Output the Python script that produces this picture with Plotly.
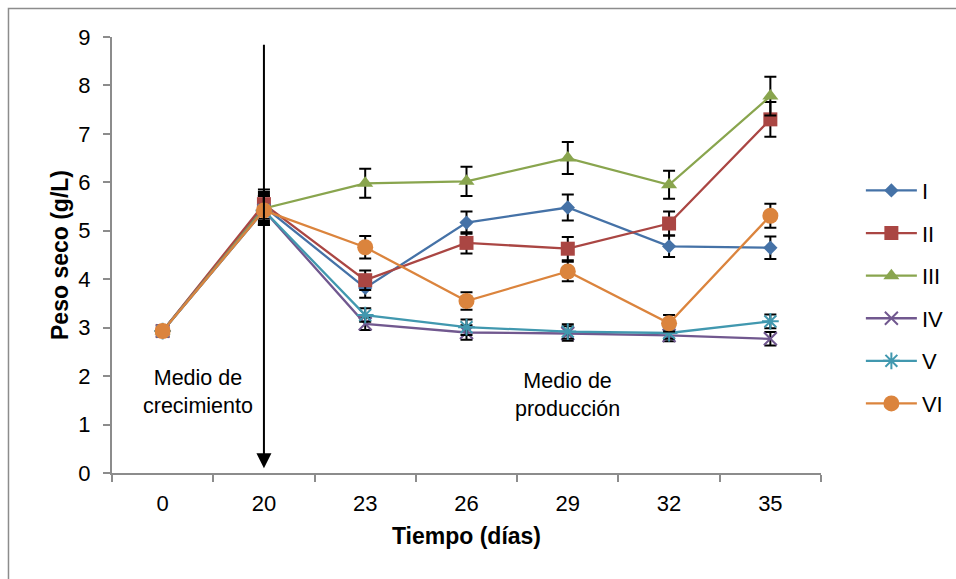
import plotly.graph_objects as go

# ---------------- data ----------------
days = ["0", "20", "23", "26", "29", "32", "35"]
series_names = ["I", "II", "III", "IV", "V", "VI"]

val_I = [2.93, 5.50, 3.82, 5.17, 5.48, 4.68, 4.65]
val_II = [2.93, 5.55, 3.98, 4.75, 4.63, 5.15, 7.30]
val_III = [2.93, 5.46, 5.98, 6.02, 6.50, 5.95, 7.78]
val_IV = [2.93, 5.42, 3.08, 2.90, 2.88, 2.84, 2.77]
val_V = [2.93, 5.42, 3.26, 3.01, 2.92, 2.89, 3.13]
val_VI = [2.93, 5.42, 4.66, 3.55, 4.16, 3.09, 5.31]

err_I = [0.05, 0.30, 0.20, 0.23, 0.27, 0.22, 0.23]
err_II = [0.05, 0.30, 0.20, 0.22, 0.24, 0.25, 0.36]
err_III = [0.05, 0.30, 0.30, 0.30, 0.33, 0.29, 0.40]
err_IV = [0.05, 0.30, 0.13, 0.15, 0.15, 0.12, 0.14]
err_V = [0.05, 0.30, 0.14, 0.16, 0.15, 0.12, 0.14]
err_VI = [0.05, 0.30, 0.23, 0.18, 0.20, 0.17, 0.25]

values = [val_I, val_II, val_III, val_IV, val_V, val_VI]
errors = [err_I, err_II, err_III, err_IV, err_V, err_VI]

colors = ["#4572A7", "#AA4643", "#89A54E", "#71588F", "#4198AF", "#DB843D"]
symbols = ["diamond", "square", "triangle-up", "x-thin", "asterisk", "circle"]
sizes = [11, 14, 14, 13, 14, 16]

FONT = "Liberation Sans, Arial, sans-serif"

fig = go.Figure()
for i, name in enumerate(series_names):
    open_sym = symbols[i] in ("x-thin", "asterisk")
    fig.add_trace(go.Scatter(
        x=days, y=values[i], name=name, mode="lines+markers",
        legendgroup=name,
        line=dict(color=colors[i], width=2.3),
        marker=dict(symbol=symbols[i], size=sizes[i], color=colors[i],
                    line=dict(color=colors[i], width=2 if open_sym else 0)),
        error_y=dict(type="data", array=errors[i], visible=True,
                     color="black", thickness=2, width=6),
    ))

# arrow marking the change of medium at day 20
arrow_idx = days.index("20")
fig.add_annotation(x=arrow_idx, y=0.1, ax=arrow_idx, ay=8.87, xref="x", yref="y",
                   axref="x", ayref="y", showarrow=True, arrowhead=2,
                   arrowwidth=2, arrowsize=1.5, arrowcolor="black", text="")

fig.add_annotation(x=0.35, y=1.67, xref="x", yref="y", showarrow=False,
                   text="Medio de<br>crecimiento",
                   font=dict(family=FONT, size=21.5, color="black"))
fig.add_annotation(x=days.index("29"), y=1.61, xref="x", yref="y", showarrow=False,
                   text="Medio de<br>producción",
                   font=dict(family=FONT, size=21.5, color="black"))

# outer chart frame (only left/top visible in the crop)
fig.add_shape(type="rect", xref="paper", yref="paper",
              x0=-0.146, y0=-0.34, x1=1.26, y1=1.0654,
              line=dict(color="#8C8C8C", width=1.5), layer="below")

fig.update_layout(
    width=956, height=579,
    margin=dict(l=112, r=135, t=37, b=106, autoexpand=False),
    paper_bgcolor="white", plot_bgcolor="white",
    font=dict(family=FONT, size=22, color="black"),
    showlegend=True,
    legend=dict(xref="container", yref="container",
                x=0.9005, y=0.707, xanchor="left", yanchor="top",
                font=dict(family=FONT, size=22, color="black"),
                traceorder="grouped", tracegroupgap=11,
                itemwidth=51,
                bgcolor="rgba(0,0,0,0)"),
    xaxis=dict(type="category", categoryorder="array", categoryarray=days,
               range=[-0.5, len(days) - 0.5], tickangle=0,
               tickson="boundaries", ticks="outside", ticklen=7,
               tickcolor="#8C8C8C", tickwidth=2,
               showline=True, linecolor="#8C8C8C", linewidth=2,
               showgrid=False, zeroline=False,
               ticklabelstandoff=10,
               tickfont=dict(family=FONT, size=22, color="black"),
               title=dict(text="<b>Tiempo (días)</b>",
                          font=dict(family=FONT, size=23, color="black"),
                          standoff=12)),
    yaxis=dict(range=[0, 9], dtick=1, ticks="outside", ticklen=7,
               tickcolor="#8C8C8C", tickwidth=2,
               showline=True, linecolor="#8C8C8C", linewidth=2,
               showgrid=False, zeroline=False,
               ticklabelstandoff=8,
               tickfont=dict(family=FONT, size=22, color="black"),
               title=dict(text="<b>Peso seco (g/L)</b>",
                          font=dict(family=FONT, size=23, color="black"),
                          standoff=3)),
)

fig.write_html("out.html")
